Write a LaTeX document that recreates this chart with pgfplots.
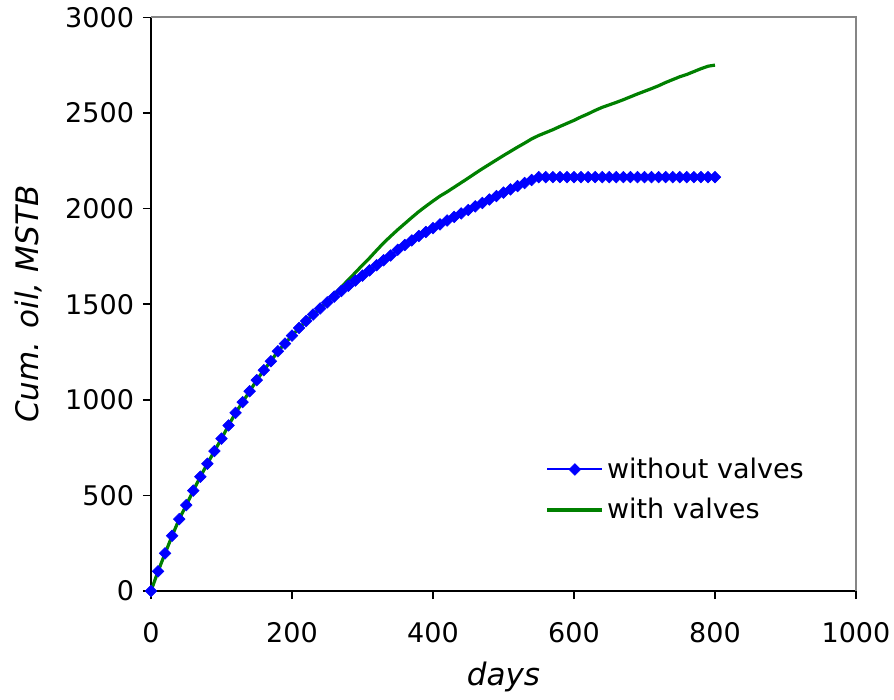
\documentclass[border=0pt]{standalone}
\usepackage{fontspec}
\setmainfont{DejaVu Sans}
\usepackage{pgfplots}
\usepackage{pgfplotstable}
\pgfplotsset{compat=1.18}
\definecolor{xlblue}{RGB}{0,0,255}
\definecolor{xlgreen}{RGB}{0,128,0}
\definecolor{framegray}{RGB}{134,134,134}

\pgfplotstableread{
x y
0 0
10 103
20 197
30 289
40 376
50 449
60 525
70 598
80 666
90 732
100 797
110 866
120 932
130 988
140 1045
150 1103
160 1155
170 1202
180 1254
190 1294
200 1336
210 1376
220 1412
230 1446
240 1478
250 1510
260 1540
270 1569
280 1597
290 1624
300 1650
310 1677
320 1704
330 1730
340 1755
350 1785
360 1810
370 1834
380 1857
390 1878
400 1898
410 1918
420 1938
430 1957
440 1975
450 1993
460 2012
470 2030
480 2048
490 2066
500 2084
510 2101
520 2118
530 2134
540 2150
550 2165
560 2165
570 2165
580 2165
590 2165
600 2165
610 2165
620 2165
630 2165
640 2165
650 2165
660 2165
670 2165
680 2165
690 2165
700 2165
710 2165
720 2165
730 2165
740 2165
750 2165
760 2165
770 2165
780 2165
790 2165
800 2165
}\withoutvalves

\pgfplotstableread{
x y
0 0
10 103
20 197
30 289
40 376
50 449
60 525
70 598
80 666
90 732
100 797
110 866
120 932
130 988
140 1045
150 1103
160 1155
170 1202
180 1254
190 1294
200 1336
210 1376
220 1412
230 1446
240 1478
250 1512
260 1552
270 1590
280 1628
290 1666
300 1705
310 1742
320 1782
330 1821
340 1856
350 1890
360 1922
370 1954
380 1985
390 2013
400 2040
410 2066
420 2088
430 2112
440 2136
450 2160
460 2185
470 2209
480 2232
490 2255
500 2278
510 2300
520 2322
530 2343
540 2365
550 2383
560 2398
570 2413
580 2430
590 2446
600 2462
610 2480
620 2496
630 2514
640 2530
650 2543
660 2556
670 2570
680 2585
690 2600
700 2614
710 2628
720 2643
730 2660
740 2675
750 2690
760 2702
770 2717
780 2732
790 2745
800 2751
}\withvalves

\begin{document}
\begin{tikzpicture}
\useasboundingbox (-75.5bp,-54.5bp) rectangle (371.5bp,295.5bp);
\begin{axis}[
  scale only axis,
  width=352.5bp, height=286.75bp,
  xmin=0, xmax=1000, ymin=0, ymax=3000,
  xtick={0,200,...,1000}, ytick={0,500,...,3000},
  axis lines=left,
  axis line style={-, black, line width=0.8bp},
  tick align=outside,
  major tick length=4bp,
  tick style={black, line width=0.8bp},
  minor tick num=0,
  /pgf/number format/assume math mode=true,
  /pgf/number format/1000 sep={},
  tick label style={font=\fontsize{13.5bp}{16bp}\selectfont},
  xticklabel style={yshift=-8bp},
  yticklabel style={xshift=-1bp},
  xlabel={\itshape days},
  ylabel={\itshape Cum. oil, MSTB},
  label style={font=\fontsize{15.5bp}{18bp}\selectfont},
  xlabel style={at={(axis description cs:0.5,0)}, anchor=center, yshift=-42.75bp},
  ylabel style={at={(axis description cs:0,0.5)}, anchor=center, rotate=0, xshift=0bp, yshift=61bp},
  legend style={at={(rel axis cs:0.551,0.247)}, anchor=north west, draw=none, fill=none,
    font=\fontsize{13.5bp}{16bp}\selectfont, row sep=4.5bp,
    nodes={inner xsep=1.5bp}},
  legend cell align=left,
  legend image code/.code={\draw[mark repeat=2,mark phase=2] plot coordinates {(0bp,0bp) (13.75bp,0bp) (27.5bp,0bp)};},
  clip=false,
]
\draw[framegray, line width=1bp] (rel axis cs:0,1) -- (rel axis cs:1,1) -- (rel axis cs:1,0);
\addplot[xlblue, line width=1bp, mark=square*, mark size=2.05bp, mark options={rotate=45, solid, fill=xlblue, draw=xlblue, line width=0.3bp}] table[x=x,y=y] {\withoutvalves};
\addlegendentry{without valves}
\addplot[xlgreen, line width=1.6bp, no marks] table[x=x,y=y] {\withvalves};
\addlegendentry{with valves}
\end{axis}
\end{tikzpicture}
\end{document}
